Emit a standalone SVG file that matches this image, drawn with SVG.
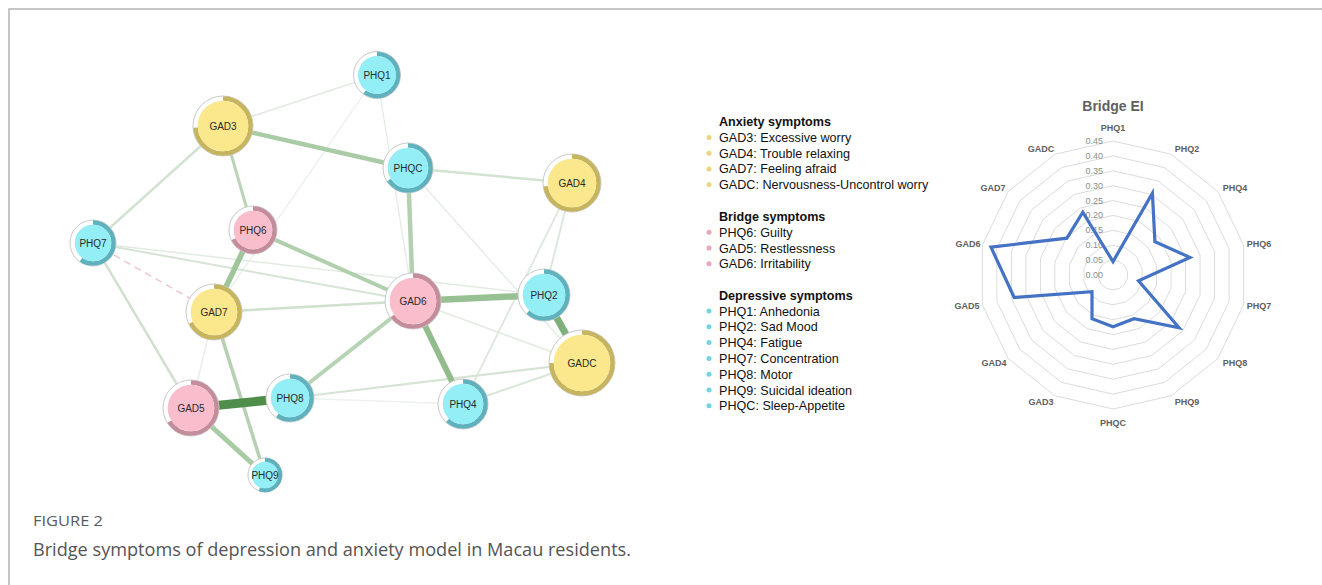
<svg xmlns="http://www.w3.org/2000/svg" width="1322" height="585" viewBox="0 0 1322 585">
<style>
.frame{stroke:#b3b3b3;stroke-width:1.5;fill:none}
.e{stroke-linecap:butt;fill:none}
.bg{fill:#fff;stroke:#c9c9c9;stroke-width:1}
.ry{fill:none;stroke:#c6b45f;stroke-width:4.5}
.rp{fill:none;stroke:#c48d9c;stroke-width:4.5}
.rc{fill:none;stroke:#5fb2bd;stroke-width:4.5}
.fy{fill:#fbe78c}
.fp{fill:#f9bdcb}
.fc{fill:#94eef5}
.nl{font-family:"Liberation Sans",Arial,sans-serif;font-size:10px;fill:#2a2a2a;text-anchor:middle}
.lg{font-family:"Liberation Sans",Arial,sans-serif;font-size:12.6px;fill:#111}
.lh{font-weight:bold}
.by{fill:#ead67e}
.bp{fill:#eaa6bd}
.bc{fill:#72d5de}
.grid{fill:none;stroke:#dcdcdc;stroke-width:1}
.tk{font-family:"Liberation Sans",Arial,sans-serif;font-size:9px;fill:#8c8c8c;text-anchor:end}
.ax{font-family:"Liberation Sans",Arial,sans-serif;font-size:9px;font-weight:bold;fill:#606060;text-anchor:middle}
.cap1{font-family:"Open Sans","Liberation Sans",sans-serif;font-size:15px;fill:#5a5a5a}
.cap2{font-family:"Open Sans","Liberation Sans",sans-serif;font-size:18px;fill:#555}
</style>
<defs>
<polygon id="ring14" points="0,-1 0.4339,-0.901 0.7818,-0.6235 0.9749,-0.2225 0.9749,0.2225 0.7818,0.6235 0.4339,0.901 0,1 -0.4339,0.901 -0.7818,0.6235 -0.9749,0.2225 -0.9749,-0.2225 -0.7818,-0.6235 -0.4339,-0.901" vector-effect="non-scaling-stroke"/>
</defs>
<rect width="1322" height="585" fill="#fff"/>
<path class="frame" d="M9 585 V9 H1322"/>

<g id="connectors">
<line class="e" x1="223" y1="126" x2="377" y2="75" stroke="#e4ede4" stroke-width="1.8"/>
<line class="e" x1="377" y1="75" x2="413" y2="301" stroke="#e4ede4" stroke-width="1.3"/>
<line class="e" x1="377" y1="75" x2="214" y2="312" stroke="#e9f0e9" stroke-width="1.3"/>
<line class="e" x1="408" y1="168" x2="582" y2="363" stroke="#e3ece3" stroke-width="1.3"/>
<line class="e" x1="413" y1="301" x2="582" y2="363" stroke="#e3ece3" stroke-width="1.5"/>
<line class="e" x1="290" y1="398" x2="463" y2="404" stroke="#edf2ed" stroke-width="1.3"/>
<line class="e" x1="93" y1="243" x2="544" y2="295" stroke="#e2ebe2" stroke-width="1.5"/>
<line class="e" x1="214" y1="312" x2="191" y2="408" stroke="#e6eee6" stroke-width="1.3"/>
<line class="e" x1="572" y1="183" x2="544" y2="295" stroke="#dbe7da" stroke-width="1.8"/>
<line class="e" x1="572" y1="183" x2="463" y2="404" stroke="#dde8dc" stroke-width="1.8"/>
<line class="e" x1="290" y1="398" x2="582" y2="363" stroke="#d5e4d4" stroke-width="2"/>
<line class="e" x1="463" y1="404" x2="582" y2="363" stroke="#d8e6d7" stroke-width="2"/>
<line class="e" x1="93" y1="243" x2="413" y2="301" stroke="#d5e4d4" stroke-width="2"/>
<line class="e" x1="223" y1="126" x2="93" y2="243" stroke="#d3e3d1" stroke-width="2.5"/>
<line class="e" x1="408" y1="168" x2="572" y2="183" stroke="#d3e3d1" stroke-width="2.5"/>
<line class="e" x1="214" y1="312" x2="413" y2="301" stroke="#cfe1cd" stroke-width="2.5"/>
<line class="e" x1="93" y1="243" x2="191" y2="408" stroke="#d0e1ce" stroke-width="2.5"/>
<line class="e" x1="93" y1="243" x2="214" y2="312" stroke="#f2c6d1" stroke-width="1.5" stroke-dasharray="7 5"/>
<line class="e" x1="223" y1="126" x2="253" y2="230" stroke="#b9d5b6" stroke-width="3"/>
<line class="e" x1="214" y1="312" x2="265" y2="475" stroke="#b5d1b2" stroke-width="3.5"/>
<line class="e" x1="290" y1="398" x2="413" y2="301" stroke="#b6d3b3" stroke-width="4"/>
<line class="e" x1="253" y1="230" x2="413" y2="301" stroke="#b0cfad" stroke-width="4"/>
<line class="e" x1="223" y1="126" x2="408" y2="168" stroke="#a9cba5" stroke-width="4.5"/>
<line class="e" x1="408" y1="168" x2="413" y2="301" stroke="#b3d1b0" stroke-width="4.5"/>
<line class="e" x1="191" y1="408" x2="265" y2="475" stroke="#a9cba5" stroke-width="5"/>
<line class="e" x1="253" y1="230" x2="214" y2="312" stroke="#9fc59b" stroke-width="5.5"/>
<line class="e" x1="413" y1="301" x2="463" y2="404" stroke="#93bc8e" stroke-width="6"/>
<line class="e" x1="413" y1="301" x2="544" y2="295" stroke="#98c193" stroke-width="6.5"/>
<line class="e" x1="544" y1="295" x2="582" y2="363" stroke="#7fb07a" stroke-width="7"/>
<line class="e" x1="191" y1="408" x2="290" y2="398" stroke="#4f8d4a" stroke-width="9"/>
</g>

<g id="PHQ1" transform="translate(377 75)">
<circle class="bg" r="23.5"/><circle class="rc" r="21" pathLength="100" stroke-dasharray="60 100" transform="rotate(-90)"/><circle class="fc" r="19"/><text class="nl" y="3.5">PHQ1</text></g>
<g id="GAD3" transform="translate(223 126)">
<circle class="bg" r="30"/><circle class="ry" r="27.5" pathLength="100" stroke-dasharray="74 100" transform="rotate(-90)"/><circle class="fy" r="25.3"/><text class="nl" y="3.5">GAD3</text></g>
<g id="PHQC" transform="translate(408 168)">
<circle class="bg" r="25"/><circle class="rc" r="22.5" pathLength="100" stroke-dasharray="66 100" transform="rotate(-90)"/><circle class="fc" r="20.3"/><text class="nl" y="3.5">PHQC</text></g>
<g id="GAD4" transform="translate(572 183)">
<circle class="bg" r="29"/><circle class="ry" r="26.5" pathLength="100" stroke-dasharray="73 100" transform="rotate(-90)"/><circle class="fy" r="24.3"/><text class="nl" y="3.5">GAD4</text></g>
<g id="PHQ6" transform="translate(253 230)">
<circle class="bg" r="24"/><circle class="rp" r="21.5" pathLength="100" stroke-dasharray="68 100" transform="rotate(-90)"/><circle class="fp" r="19.3"/><text class="nl" y="3.5">PHQ6</text></g>
<g id="PHQ7" transform="translate(93 243)">
<circle class="bg" r="23"/><circle class="rc" r="20.5" pathLength="100" stroke-dasharray="60 100" transform="rotate(-90)"/><circle class="fc" r="18.3"/><text class="nl" y="3.5">PHQ7</text></g>
<g id="GAD6" transform="translate(413 301)">
<circle class="bg" r="28"/><circle class="rp" r="25.5" pathLength="100" stroke-dasharray="65 100" transform="rotate(-90)"/><circle class="fp" r="23.3"/><text class="nl" y="3.5">GAD6</text></g>
<g id="PHQ2" transform="translate(544 295)">
<circle class="bg" r="26"/><circle class="rc" r="23.5" pathLength="100" stroke-dasharray="62 100" transform="rotate(-90)"/><circle class="fc" r="21.3"/><text class="nl" y="3.5">PHQ2</text></g>
<g id="GAD7" transform="translate(214 312)">
<circle class="bg" r="28"/><circle class="ry" r="25.5" pathLength="100" stroke-dasharray="68 100" transform="rotate(-90)"/><circle class="fy" r="23.3"/><text class="nl" y="3.5">GAD7</text></g>
<g id="GADC" transform="translate(582 363)">
<circle class="bg" r="33"/><circle class="ry" r="30.5" pathLength="100" stroke-dasharray="75 100" transform="rotate(-90)"/><circle class="fy" r="28.3"/><text class="nl" y="3.5">GADC</text></g>
<g id="GAD5" transform="translate(191 408)">
<circle class="bg" r="28"/><circle class="rp" r="25.5" pathLength="100" stroke-dasharray="66 100" transform="rotate(-90)"/><circle class="fp" r="23.3"/><text class="nl" y="3.5">GAD5</text></g>
<g id="PHQ8" transform="translate(290 398)">
<circle class="bg" r="24"/><circle class="rc" r="21.5" pathLength="100" stroke-dasharray="60 100" transform="rotate(-90)"/><circle class="fc" r="19.3"/><text class="nl" y="3.5">PHQ8</text></g>
<g id="PHQ4" transform="translate(463 404)">
<circle class="bg" r="25"/><circle class="rc" r="22.5" pathLength="100" stroke-dasharray="62 100" transform="rotate(-90)"/><circle class="fc" r="20.3"/><text class="nl" y="3.5">PHQ4</text></g>
<g id="PHQ9" transform="translate(265 475)">
<circle class="bg" r="17"/><circle class="rc" r="15" pathLength="100" stroke-dasharray="56 100" stroke-width="3.5" transform="rotate(-90)"/><circle class="fc" r="13.3"/><text class="nl" y="3.5">PHQ9</text></g>

<g id="legend">
<text class="lg lh" x="719" y="126">Anxiety symptoms</text>
<circle class="by" cx="709" cy="137.5" r="2.5"/><text class="lg" x="719" y="142">GAD3: Excessive worry</text>
<circle class="by" cx="709" cy="153.2" r="2.5"/><text class="lg" x="719" y="157.7">GAD4: Trouble relaxing</text>
<circle class="by" cx="709" cy="168.9" r="2.5"/><text class="lg" x="719" y="173.4">GAD7: Feeling afraid</text>
<circle class="by" cx="709" cy="184.6" r="2.5"/><text class="lg" x="719" y="189.1">GADC: Nervousness-Uncontrol worry</text>
<text class="lg lh" x="719" y="221">Bridge symptoms</text>
<circle class="bp" cx="709" cy="232.3" r="2.5"/><text class="lg" x="719" y="236.8">PHQ6: Guilty</text>
<circle class="bp" cx="709" cy="248" r="2.5"/><text class="lg" x="719" y="252.5">GAD5: Restlessness</text>
<circle class="bp" cx="709" cy="263.7" r="2.5"/><text class="lg" x="719" y="268.2">GAD6: Irritability</text>
<text class="lg lh" x="719" y="299.5">Depressive symptoms</text>
<circle class="bc" cx="709" cy="311" r="2.5"/><text class="lg" x="719" y="315.5">PHQ1: Anhedonia</text>
<circle class="bc" cx="709" cy="326.8" r="2.5"/><text class="lg" x="719" y="331.3">PHQ2: Sad Mood</text>
<circle class="bc" cx="709" cy="342.6" r="2.5"/><text class="lg" x="719" y="347.1">PHQ4: Fatigue</text>
<circle class="bc" cx="709" cy="358.4" r="2.5"/><text class="lg" x="719" y="362.9">PHQ7: Concentration</text>
<circle class="bc" cx="709" cy="374.2" r="2.5"/><text class="lg" x="719" y="378.7">PHQ8: Motor</text>
<circle class="bc" cx="709" cy="390" r="2.5"/><text class="lg" x="719" y="394.5">PHQ9: Suicidal ideation</text>
<circle class="bc" cx="709" cy="405.8" r="2.5"/><text class="lg" x="719" y="410.3">PHQC: Sleep-Appetite</text>
</g>

<g id="radar">
<text x="1113" y="111" font-family="Liberation Sans, Arial, sans-serif" font-size="14" font-weight="bold" fill="#5f5f5f" text-anchor="middle">Bridge EI</text>
<g class="grid">
<use href="#ring14" transform="translate(1113 275) scale(14.89)"/>
<use href="#ring14" transform="translate(1113 275) scale(29.78)"/>
<use href="#ring14" transform="translate(1113 275) scale(44.67)"/>
<use href="#ring14" transform="translate(1113 275) scale(59.56)"/>
<use href="#ring14" transform="translate(1113 275) scale(74.44)"/>
<use href="#ring14" transform="translate(1113 275) scale(89.33)"/>
<use href="#ring14" transform="translate(1113 275) scale(104.22)"/>
<use href="#ring14" transform="translate(1113 275) scale(119.11)"/>
<use href="#ring14" transform="translate(1113 275) scale(134)"/>
</g>
<text class="tk" x="1103" y="278">0.00</text>
<text class="tk" x="1103" y="263.1">0.05</text>
<text class="tk" x="1103" y="248.2">0.10</text>
<text class="tk" x="1103" y="233.3">0.15</text>
<text class="tk" x="1103" y="218.4">0.20</text>
<text class="tk" x="1103" y="203.6">0.25</text>
<text class="tk" x="1103" y="188.7">0.30</text>
<text class="tk" x="1103" y="173.8">0.35</text>
<text class="tk" x="1103" y="158.9">0.40</text>
<text class="tk" x="1103" y="144">0.45</text>
<text class="ax" x="1113" y="131">PHQ1</text>
<text class="ax" x="1187" y="152">PHQ2</text>
<text class="ax" x="1235" y="191">PHQ4</text>
<text class="ax" x="1259" y="247">PHQ6</text>
<text class="ax" x="1259" y="309">PHQ7</text>
<text class="ax" x="1235" y="366">PHQ8</text>
<text class="ax" x="1187" y="405">PHQ9</text>
<text class="ax" x="1113" y="426">PHQC</text>
<text class="ax" x="1041" y="405">GAD3</text>
<text class="ax" x="994" y="366">GAD4</text>
<text class="ax" x="967" y="309">GAD5</text>
<text class="ax" x="968" y="247">GAD6</text>
<text class="ax" x="993" y="191">GAD7</text>
<text class="ax" x="1041" y="152">GADC</text>
<polygon points="1113,261.6 1152.4,193.2 1154.9,241.6 1189.9,257.4 1138.5,280.8 1179.1,327.7 1134,318.7 1113,326.8 1092,318.7 1092,291.7 1014.2,297.5 991,247.2 1066.9,238.2 1082.8,212.2" fill="none" stroke="#4472c4" stroke-width="3.2" stroke-linejoin="miter"/>
</g>

<g id="caption">
<text class="cap1" x="33" y="526" textLength="70" lengthAdjust="spacingAndGlyphs">FIGURE 2</text>
<text class="cap2" x="33" y="556" textLength="598" lengthAdjust="spacingAndGlyphs">Bridge symptoms of depression and anxiety model in Macau residents.</text>
</g>
</svg>
